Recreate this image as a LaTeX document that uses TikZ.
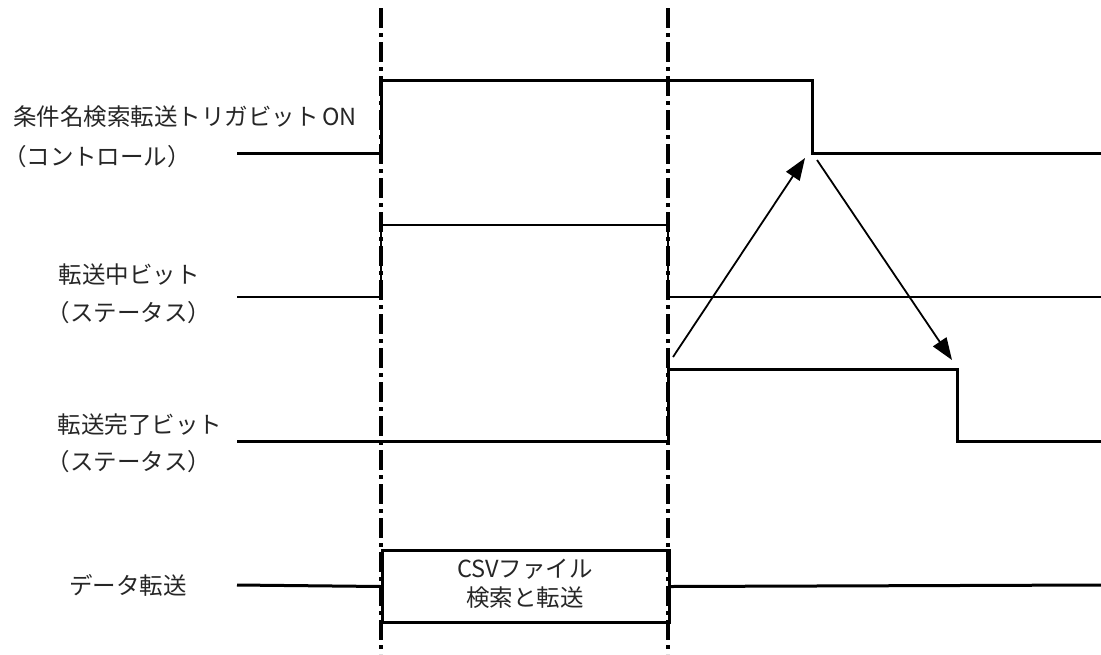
\documentclass[tikz,border=0pt]{standalone}
\usepackage{fontspec}
\setmainfont{Noto Sans CJK JP}
\usetikzlibrary{arrows.meta}
\begin{document}
\begin{tikzpicture}[x=1pt,y=-1pt,
  lbl/.style={inner sep=0pt,font=\fontsize{23.5}{26}\selectfont,text=black!85},
  sig/.style={line width=3pt,line join=miter},
  sigthin/.style={line width=2.4pt,line join=miter},
  guide/.style={line width=3.2pt,dash pattern=on 20pt off 5pt on 4pt off 5pt},
  evt/.style={line width=1.8pt,-{Triangle[length=22pt,width=16pt]}}]
\useasboundingbox (0,0) rectangle (1101,654);
% guide lines
\coordinate (g1t) at (381,8); \coordinate (g1b) at (381,654);
\coordinate (g2t) at (668,8); \coordinate (g2b) at (668,654);
\draw[guide] (g1t) -- (g1b);
\draw[guide] (g2t) -- (g2b);
% trigger
\draw[sig] (237,153) -- (381,153) -- (381,80) -- (812,80) -- (812,153) -- (1101,153);
% busy bit
\draw[sigthin] (237,297) -- (381,297) -- (381,225) -- (668,225) -- (668,297) -- (1101,297);
% complete bit
\draw[sig] (237,441) -- (668,441) -- (668,369) -- (957,369) -- (957,441) -- (1101,441);
% data transfer
\node[draw,line width=3pt,minimum width=287pt,minimum height=72pt,inner sep=0pt,anchor=north west] (box) at (381,549) {};
\draw[sig] (237,585) -- (box.west);
\draw[sig] (box.east) -- (1101,585);
\node[lbl,align=center] (boxtxt) at (525,584) {CSVファイル\\[3pt]検索と転送};
% labels
\node[lbl] (l1) at (185,117) {条件名検索転送トリガビット\,ON};
\node[lbl] (l1b) at (97,157) {（コントロール）};
\node[lbl] (l2) at (129,275) {転送中ビット};
\node[lbl] (l2b) at (129,313) {（ステータス）};
\node[lbl] (l3) at (140,425) {転送完了ビット};
\node[lbl] (l3b) at (129,462) {（ステータス）};
\node[lbl] (l4) at (128,585) {データ転送};
% event arrows
\coordinate (a1s) at (673,357); \coordinate (a1e) at (805,158);
\coordinate (a2s) at (817,160); \coordinate (a2e) at (952,360);
\draw[evt] (a1s) -- (a1e);
\draw[evt] (a2s) -- (a2e);
\end{tikzpicture}
\end{document}
